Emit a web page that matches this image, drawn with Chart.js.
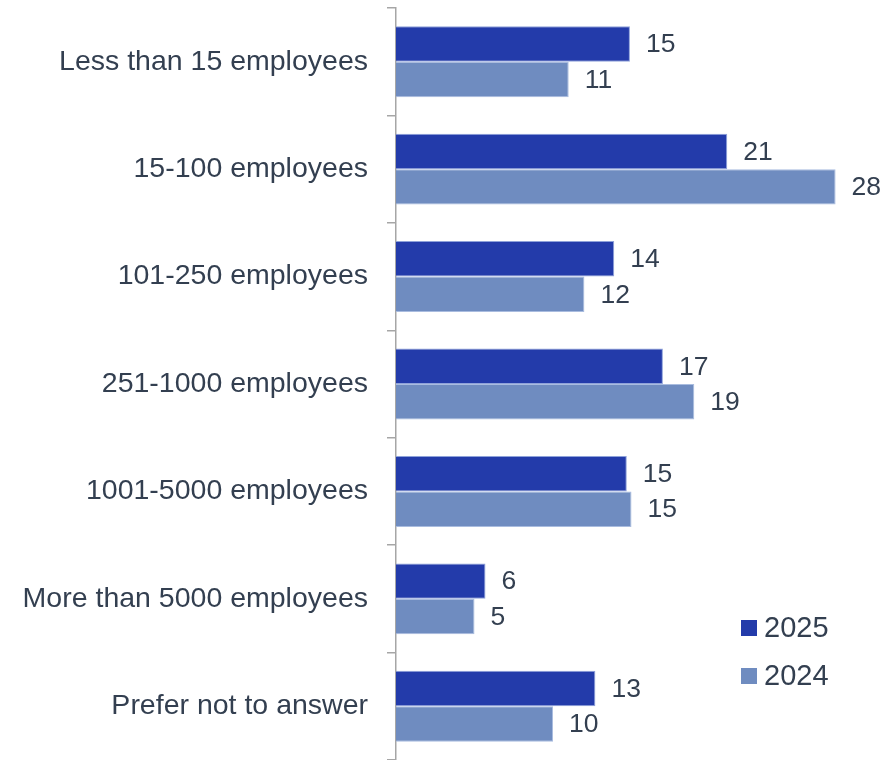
<!DOCTYPE html>
<html lang="en">
<head>
  <meta charset="UTF-8">
  <title>Employees</title>
  <style>
    body { margin: 0; background: #fff; }
    .grafico { width: 887px; height: 760px; }
  </style>
</head>
<body>
  <div class="grafico">
    <canvas id="myCanvas"></canvas>
  </div>

<script src="https://cdn.jsdelivr.net/npm/chart.js"></script>
<script>
  const categories = [
    'Less than 15 employees',
    '15-100 employees',
    '101-250 employees',
    '251-1000 employees',
    '1001-5000 employees',
    'More than 5000 employees',
    'Prefer not to answer'
  ];
  const seriesNames = ['2025', '2024'];
  const values2025 = [14.9, 21.1, 13.9, 17.0, 14.7, 5.7, 12.7];
  const values2024 = [11.0, 28.0, 12.0, 19.0, 15.0, 5.0, 10.0];

  const corEscura = '#233BAA';
  const corClara = '#6F8CC0';
  const corTexto = '#333F50';
  const fonte = 'Liberation Sans, Arial, sans-serif';

  // valores ao lado das barras
  const rotulos = {
    id: 'rotulos',
    afterDatasetsDraw(chart) {
      const ctx = chart.ctx;
      ctx.save();
      ctx.font = '26.5px ' + fonte;
      ctx.fillStyle = corTexto;
      ctx.textAlign = 'left';
      ctx.textBaseline = 'middle';
      chart.data.datasets.forEach((ds, i) => {
        chart.getDatasetMeta(i).data.forEach((bar, j) => {
          ctx.fillText(Math.round(ds.data[j]), bar.x + 16, bar.y + 1);
        });
      });
      ctx.restore();
    }
  };

  // legenda no canto inferior direito
  const legenda = {
    id: 'legenda',
    afterDraw(chart) {
      const ctx = chart.ctx;
      const x = chart.width - 146;
      ctx.save();
      ctx.font = '29px ' + fonte;
      ctx.textAlign = 'left';
      ctx.textBaseline = 'middle';
      chart.data.datasets.forEach((ds, i) => {
        const y = 628 + i * 48;
        ctx.fillStyle = ds.backgroundColor;
        ctx.fillRect(x, y - 8, 16, 16);
        ctx.fillStyle = corTexto;
        ctx.fillText(ds.label, x + 23, y + 1);
      });
      ctx.restore();
    }
  };

  const ctx = document.getElementById('myCanvas').getContext('2d');
  const chart = new Chart(ctx, {
    type: 'bar',
    data: {
      labels: categories,
      datasets: [{
        label: seriesNames[0],
        data: values2025,
        backgroundColor: corEscura,
        borderColor: '#8EA2DA',
        borderWidth: 1
      }, {
        label: seriesNames[1],
        data: values2024,
        backgroundColor: corClara,
        borderColor: '#A9BCDF',
        borderWidth: 1
      }]
    },
    options: {
      indexAxis: 'y',
      responsive: true,
      maintainAspectRatio: false,
      animation: false,
      categoryPercentage: 0.66,
      barPercentage: 1.0,
      layout: {
        padding: { top: 8, right: 20, left: 0, bottom: 0 }
      },
      plugins: {
        legend: { display: false },
        tooltip: { enabled: false }
      },
      scales: {
        x: {
          display: false,
          min: 0,
          max: 30
        },
        y: {
          offset: true,
          afterFit: (scale) => {
            scale.width = 396;
            scale.paddingTop = 0;
            scale.paddingBottom = 0;
          },
          grid: {
            offset: true,
            drawOnChartArea: false,
            tickLength: 9,
            color: '#A6A6A6',
            lineWidth: 1.5
          },
          border: { display: true, color: '#A6A6A6', width: 1.5 },
          ticks: {
            padding: 19,
            color: corTexto,
            font: { family: fonte, size: 28.5 }
          }
        }
      }
    },
    plugins: [rotulos, legenda]
  });
</script>
</body>
</html>
